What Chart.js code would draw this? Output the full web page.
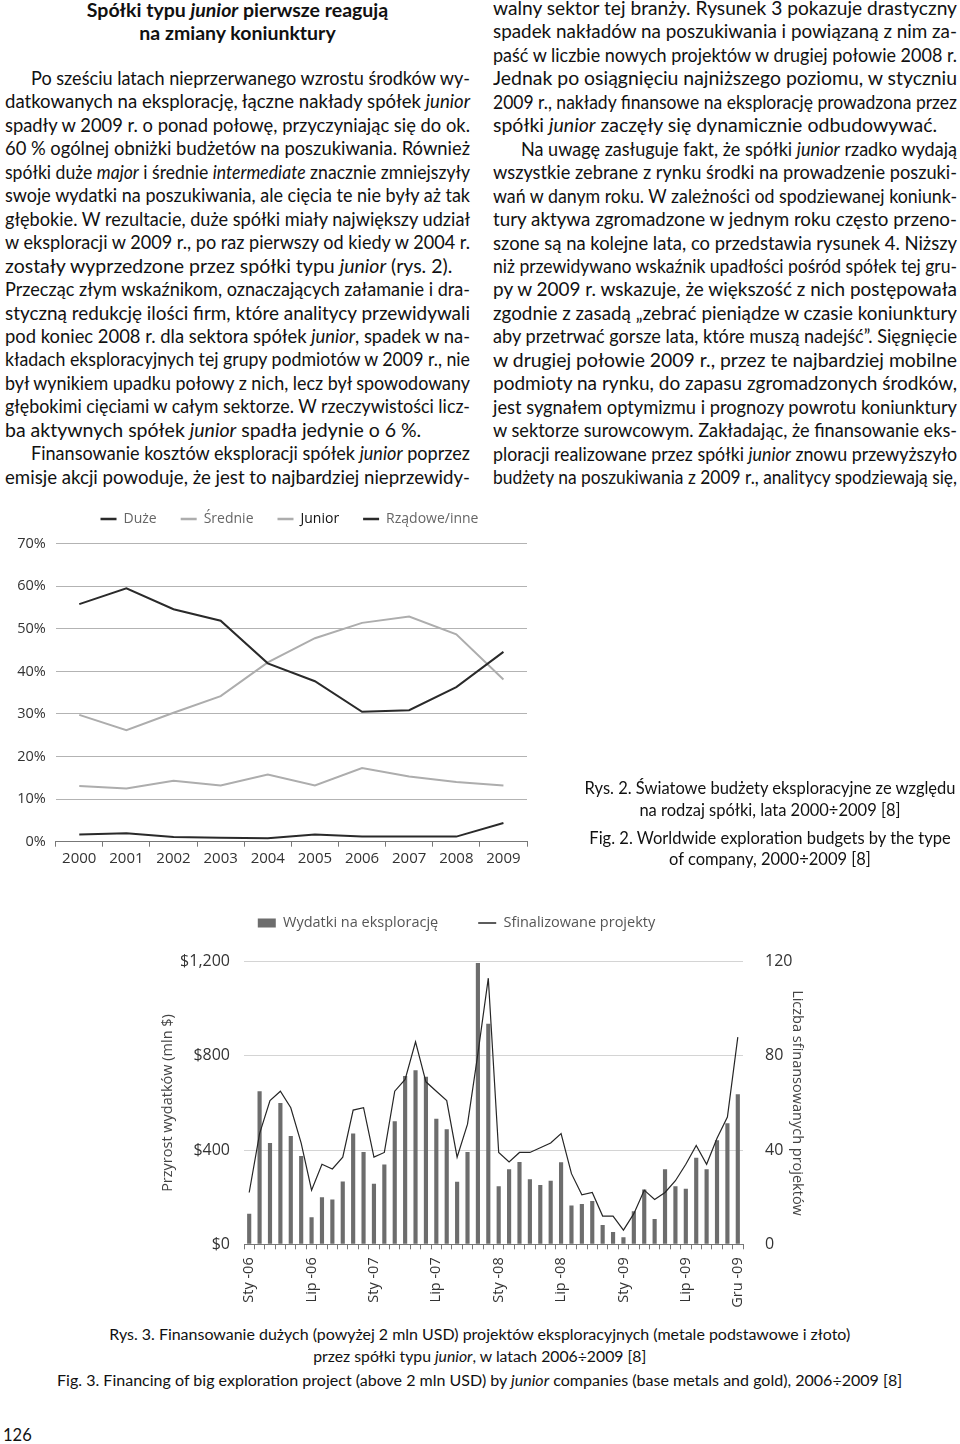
<!DOCTYPE html>
<html>
<head>
<meta charset="utf-8">
<script src="https://cdn.jsdelivr.net/npm/chart.js@4.4.1/dist/chart.umd.min.js"></script>
<style>
  html, body { margin: 0; padding: 0; background: #fff; }
  #page { position: relative; width: 960px; height: 1444px; overflow: hidden;
          font-family: Lato, 'Open Sans', sans-serif; color: #111; }
  .ln { position: absolute; height: 24px; line-height: 24px; font-size: 19.5px; white-space: nowrap; }
  .ttl { font-weight: bold; }
  .cap { font-size: 16.5px; }
  .cap3 { font-size: 15.5px; }
  .box { position: absolute; }
</style>
</head>
<body>
<div id="page">
  <div class="box" style="left:0;top:500px;width:580px;height:380px"><canvas id="budgetChart"></canvas></div>
  <div class="box" style="left:140px;top:900px;width:700px;height:420px"><canvas id="juniorChart"></canvas></div>
</div>
<script>
// ---- rys. 2 data (share of exploration budgets, %) ----
const years = ['2000', '2001', '2002', '2003', '2004', '2005', '2006', '2007', '2008', '2009'];
const duze = [55.8, 59.5, 54.6, 51.9, 41.9, 37.7, 30.5, 30.9, 36.3, 44.6];
const srednie = [13.1, 12.5, 14.3, 13.2, 15.8, 13.2, 17.3, 15.3, 14.0, 13.2];
const junior = [29.8, 26.2, 30.3, 34.2, 42.1, 47.8, 51.4, 52.9, 48.7, 38.1];
const rzadowe = [1.7, 2.0, 1.1, 0.9, 0.8, 1.7, 1.2, 1.2, 1.2, 4.4];

// ---- rys. 3 data (monthly, Jan 2006 - Dec 2009) ----
const monthNames = ['Sty', 'Lut', 'Mar', 'Kwi', 'Maj', 'Cze', 'Lip', 'Sie', 'Wrz', 'Paź', 'Lis', 'Gru'];
const yearShort = ['06', '07', '08', '09'];
const months = yearShort.flatMap(y => monthNames.map(m => m + ' -' + y));
const shownTicks = ['Sty -06', 'Lip -06', 'Sty -07', 'Lip -07', 'Sty -08', 'Lip -08', 'Sty -09', 'Lip -09', 'Gru -09'];
const wydatki = [130, 650, 430, 600, 460, 375, 115, 200, 190, 267, 470, 392,
                 257, 339, 523, 715, 739, 711, 533, 489, 266, 392, 1195, 936,
                 247, 319, 349, 276, 252, 270, 348, 165, 171, 184, 82, 52,
                 30, 140, 233, 107, 319, 247, 236, 367, 319, 442, 514, 637];
const projekty = [22, 47, 61, 65, 58, 43, 23, 34, 32, 37, 57, 58,
                  37, 39, 65, 70, 86, 69, 65, 61, 37, 51, 81, 113,
                  39, 35, 39, 39, 41, 43, 47, 30, 21, 22, 12, 12,
                  6, 13, 23, 19, 22, 27, 34, 42, 34, 45, 54, 88];

// ---- page text ----
const leftLines = [
  ['Po sześciu latach nieprzerwanego wzrostu środków wy-', 'ji'],
  ['datkowanych na eksplorację, łączne nakłady spółek <i>junior</i>', 'j'],
  ['spadły w 2009 r. o ponad połowę, przyczyniając się do ok.', 'j'],
  ['60&#8239;% ogólnej obniżki budżetów na poszukiwania. Również', 'j'],
  ['spółki duże <i>major</i> i średnie <i>intermediate</i> znacznie zmniejszyły', 'j'],
  ['swoje wydatki na poszukiwania, ale cięcia te nie były aż tak', 'j'],
  ['głębokie. W rezultacie, duże spółki miały największy udział', 'j'],
  ['w eksploracji w 2009 r., po raz pierwszy od kiedy w 2004 r.', 'j'],
  ['zostały wyprzedzone przez spółki typu <i>junior</i> (rys. 2).', 'l'],
  ['Przecząc złym wskaźnikom, oznaczających załamanie i dra-', 'j'],
  ['styczną redukcję ilości firm, które analitycy przewidywali', 'j'],
  ['pod koniec 2008 r. dla sektora spółek <i>junior</i>, spadek w na-', 'j'],
  ['kładach eksploracyjnych tej grupy podmiotów w 2009 r., nie', 'j'],
  ['był wynikiem upadku połowy z nich, lecz był spowodowany', 'j'],
  ['głębokimi cięciami w całym sektorze. W rzeczywistości licz-', 'j'],
  ['ba aktywnych spółek <i>junior</i> spadła jedynie o 6&#8239;%.', 'l'],
  ['Finansowanie kosztów eksploracji spółek <i>junior</i> poprzez', 'ji'],
  ['emisje akcji powoduje, że jest to najbardziej nieprzewidy-', 'j']
];
const rightLines = [
  ['walny sektor tej branży. Rysunek 3 pokazuje drastyczny', 'j'],
  ['spadek nakładów na poszukiwania i powiązaną z nim za-', 'j'],
  ['paść w liczbie nowych projektów w drugiej połowie 2008 r.', 'j'],
  ['Jednak po osiągnięciu najniższego poziomu, w styczniu', 'j'],
  ['2009 r., nakłady finansowe na eksplorację prowadzona przez', 'j'],
  ['spółki <i>junior</i> zaczęły się dynamicznie odbudowywać.', 'l'],
  ['Na uwagę zasługuje fakt, że spółki <i>junior</i> rzadko wydają', 'ji'],
  ['wszystkie zebrane z rynku środki na prowadzenie poszuki-', 'j'],
  ['wań w danym roku. W zależności od spodziewanej koniunk-', 'j'],
  ['tury aktywa zgromadzone w jednym roku często przeno-', 'j'],
  ['szone są na kolejne lata, co przedstawia rysunek 4. Niższy', 'j'],
  ['niż przewidywano wskaźnik upadłości pośród spółek tej gru-', 'j'],
  ['py w 2009 r. wskazuje, że większość z nich postępowała', 'j'],
  ['zgodnie z zasadą „zebrać pieniądze w czasie koniunktury', 'j'],
  ['aby przetrwać gorsze lata, które muszą nadejść”. Sięgnięcie', 'j'],
  ['w drugiej połowie 2009 r., przez te najbardziej mobilne', 'j'],
  ['podmioty na rynku, do zapasu zgromadzonych środków,', 'j'],
  ['jest sygnałem optymizmu i prognozy powrotu koniunktury', 'j'],
  ['w sektorze surowcowym. Zakładając, że finansowanie eks-', 'j'],
  ['ploracji realizowane przez spółki <i>junior</i> znowu przewyższyło', 'j'],
  ['budżety na poszukiwania z 2009 r., analitycy spodziewają się,', 'j']
];

const page = document.getElementById('page');
const placed = [];

function addLine(html, x, y, w, mode, cls, target) {
  const d = document.createElement('div');
  d.className = 'ln ' + (cls || '');
  d.style.left = x + 'px';
  d.style.top = (y - 12) + 'px';
  d.style.width = w + 'px';
  if (mode === 'c') d.style.textAlign = 'center';
  const s = document.createElement('span');
  s.innerHTML = html;
  d.appendChild(s);
  page.appendChild(d);
  placed.push({ d, s, w, mode, target });
}

const step = 23.45;
leftLines.forEach(([t, m], i) => {
  const ind = m === 'ji' ? 26 : 0;
  addLine(t, 5 + ind, 78 + i * step, 465 - ind, m === 'l' ? 'l' : 'j');
});
rightLines.forEach(([t, m], i) => {
  const ind = m === 'ji' ? 28 : 0;
  addLine(t, 493 + ind, 8 + i * step, 464 - ind, m === 'l' ? 'l' : 'j');
});

addLine('Spółki typu <i>junior</i> pierwsze reagują', 5, 10, 465, 'c', 'ttl');
addLine('na zmiany koniunktury', 5, 33, 465, 'c', 'ttl');

addLine('Rys. 2. Światowe budżety eksploracyjne ze względu', 570, 788, 400, 'c', 'cap');
addLine('na rodzaj spółki, lata 2000÷2009 [8]', 570, 810, 400, 'c', 'cap');
addLine('Fig. 2. Worldwide exploration budgets by the type', 570, 838, 400, 'c', 'cap');
addLine('of company, 2000÷2009 [8]', 570, 859, 400, 'c', 'cap');

addLine('Rys. 3. Finansowanie dużych (powyżej 2 mln USD) projektów eksploracyjnych (metale podstawowe i złoto)', 0, 1334, 960, 'c', 'cap3', 741);
addLine('przez spółki typu <i>junior</i>, w latach 2006÷2009 [8]', 0, 1356, 960, 'c', 'cap3', 333);
addLine('Fig. 3. Financing of big exploration project (above 2 mln USD) by <i>junior</i> companies (base metals and gold), 2006÷2009 [8]', 0, 1380, 960, 'c', 'cap3', 845);
addLine('126', 3, 1435, 60, 'l', 'cap');

function fitLines() {
  placed.forEach(({ d, s, w, mode, target }) => {
    const natural = s.getBoundingClientRect().width;
    if (target) {
      s.style.display = 'inline-block';
      s.style.transform = 'scaleX(' + (target / natural) + ')';
      s.style.transformOrigin = 'center';
      return;
    }
    if (natural > w) {
      s.style.display = 'inline-block';
      s.style.transform = 'scaleX(' + (w / natural) + ')';
      s.style.transformOrigin = mode === 'c' ? 'center' : 'left';
    } else if (mode === 'j') {
      d.style.whiteSpace = 'normal';
      d.style.textAlign = 'justify';
      d.style.textAlignLast = 'justify';
    }
  });
}
document.fonts.ready.then(fitLines);

// fixed legend height + position, so the plot area lands where the original has it
function legendSpot(height, centerX, centerY, fontSize, pad) {
  return {
    id: 'legendSpot',
    beforeLayout(chart) {
      const lg = chart.legend;
      if (lg && !lg._fixed) {
        const fit = lg.fit.bind(lg);
        lg.fit = function () { fit(); this.height = height; };
        lg._fixed = true;
      }
    },
    afterLayout(chart) {
      const lg = chart.legend;
      const shift = centerX - (lg.left + lg.right) / 2;
      lg.left += shift;
      lg.right += shift;
      lg.top = centerY - pad - fontSize / 2;
    }
  };
}

Chart.defaults.font.family = "'Open Sans', sans-serif";
Chart.defaults.color = '#333';

const dark = '#2a2a2a';
const light = '#adadad';

// Rys. 2
new Chart(document.getElementById('budgetChart'), {
  type: 'line',
  data: {
    labels: years,
    datasets: [
      { label: 'Duże', data: duze, borderColor: dark },
      { label: 'Średnie', data: srednie, borderColor: light },
      { label: 'Junior', data: junior, borderColor: light },
      { label: 'Rządowe/inne', data: rzadowe, borderColor: dark }
    ].map(ds => Object.assign(ds, { borderWidth: 2, pointRadius: 0, tension: 0, fill: false }))
  },
  options: {
    responsive: true,
    maintainAspectRatio: false,
    animation: false,
    layout: { padding: { left: 0, right: 53, top: 0, bottom: 0 } },
    plugins: {
      tooltip: { enabled: false },
      legend: {
        labels: {
          usePointStyle: true,
          pointStyleWidth: 16,
          padding: 24,
          font: { size: 14 },
          generateLabels: chart => chart.data.datasets.map((ds, i) => ({
            text: ds.label,
            pointStyle: 'line',
            strokeStyle: ds.borderColor,
            fillStyle: ds.borderColor,
            lineWidth: 2.5,
            fontColor: ds.label === 'Junior' ? '#111' : '#666',
            datasetIndex: i,
            hidden: false
          }))
        }
      }
    },
    scales: {
      x: {
        offset: true,
        grid: { display: true, drawOnChartArea: false, offset: true, tickLength: 5, color: '#777' },
        border: { display: true, color: '#777' },
        ticks: { font: { size: 15 }, color: '#333', padding: 3 },
        afterFit: s => { s.height = 38.3; }
      },
      y: {
        min: 0,
        max: 70,
        ticks: { stepSize: 10, callback: v => v + '%', font: { size: 14.5 }, color: '#333', padding: 10 },
        grid: { color: '#b3b3b3', drawTicks: false },
        border: { display: false },
        afterFit: s => { s.width = 55.7; }
      }
    }
  },
  plugins: [legendSpot(43.7, 289.5, 19, 14, 24)]
});

// Rys. 3
new Chart(document.getElementById('juniorChart'), {
  data: {
    labels: months,
    datasets: [
      {
        type: 'line',
        label: 'Sfinalizowane projekty',
        data: projekty,
        yAxisID: 'y1',
        borderColor: '#262626',
        borderWidth: 1.2,
        pointRadius: 0,
        tension: 0,
        order: 0
      },
      {
        type: 'bar',
        label: 'Wydatki na eksplorację',
        data: wydatki,
        yAxisID: 'y',
        backgroundColor: '#6d6d6d',
        barPercentage: 0.4,
        categoryPercentage: 1,
        order: 1
      }
    ]
  },
  options: {
    responsive: true,
    maintainAspectRatio: false,
    animation: false,
    layout: { padding: 0 },
    plugins: {
      tooltip: { enabled: false },
      legend: {
        labels: {
          usePointStyle: true,
          pointStyleWidth: 18,
          boxHeight: 9,
          padding: 40,
          font: { size: 14.5 },
          generateLabels: () => [
            { text: 'Wydatki na eksplorację', pointStyle: 'rect', fillStyle: '#6d6d6d', strokeStyle: '#6d6d6d', lineWidth: 0, fontColor: '#555', datasetIndex: 1, hidden: false },
            { text: 'Sfinalizowane projekty', pointStyle: 'line', fillStyle: '#262626', strokeStyle: '#262626', lineWidth: 1.5, fontColor: '#555', datasetIndex: 0, hidden: false }
          ]
        }
      }
    },
    scales: {
      x: {
        offset: true,
        grid: { display: true, drawOnChartArea: false, offset: true, tickLength: 5, color: '#777' },
        border: { display: true, color: '#777' },
        ticks: {
          autoSkip: false,
          minRotation: 90,
          maxRotation: 90,
          font: { size: 14.5 },
          color: '#333',
          padding: 8,
          callback: (v, i) => shownTicks.includes(months[i]) ? months[i] : ''
        },
        afterFit: s => { s.height = 75.7; }
      },
      y: {
        position: 'left',
        min: 0,
        max: 1200,
        ticks: { stepSize: 400, callback: v => '$' + v.toLocaleString('en-US'), font: { size: 16 }, color: '#333', padding: 14 },
        grid: { color: '#d4d4d4', drawTicks: false },
        border: { display: false },
        title: { display: true, text: 'Przyrost wydatków (mln $)', font: { size: 14.5 }, color: '#444', padding: { top: 19.3, bottom: 0 } },
        afterFit: s => { s.width = 104; }
      },
      y1: {
        position: 'right',
        min: 0,
        max: 120,
        ticks: { stepSize: 40, font: { size: 16 }, color: '#333', padding: 14 },
        grid: { display: false },
        border: { display: false },
        title: { display: true, text: 'Liczba sfinansowanych projektów', font: { size: 14.5 }, color: '#444', padding: { top: 34.3, bottom: 0 } },
        afterFit: s => { s.width = 97; }
      }
    }
  },
  plugins: [legendSpot(61.7, 316.5, 23, 14.5, 40)]
});
</script>
</body>
</html>
